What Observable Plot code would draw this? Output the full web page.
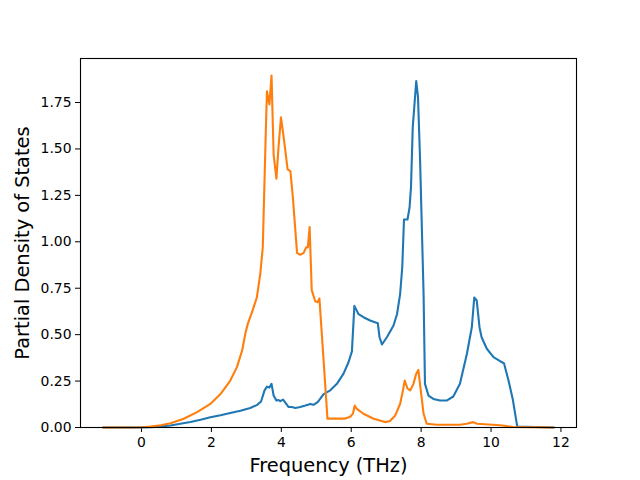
<!DOCTYPE html>
<html>
<head>
<meta charset="utf-8">
<script src="https://cdn.jsdelivr.net/npm/d3@7"></script>
<script src="https://cdn.jsdelivr.net/npm/@observablehq/plot@0.6"></script>
<style>
  html, body { margin: 0; padding: 0; background: #fff; }
  svg { display: block; }
</style>
</head>
<body>
<div id="chart"></div>
<script>
const freqBlue = [-1.1, 0, 0.3, 0.54, 0.83, 1.11, 1.4, 1.69, 1.97, 2.26, 2.54, 2.83, 3.11, 3.31, 3.42, 3.52, 3.59, 3.66, 3.72, 3.78, 3.86, 3.92, 3.97, 4.05, 4.11, 4.21, 4.3, 4.4, 4.54, 4.69, 4.83, 4.92, 5.04, 5.11, 5.21, 5.4, 5.59, 5.78, 5.92, 6.02, 6.09, 6.21, 6.35, 6.54, 6.76, 6.81, 6.88, 7.02, 7.21, 7.31, 7.4, 7.46, 7.51, 7.61, 7.67, 7.71, 7.76, 7.86, 7.91, 7.97, 8.07, 8.11, 8.21, 8.35, 8.54, 8.73, 8.92, 9.11, 9.31, 9.45, 9.52, 9.59, 9.67, 9.73, 9.88, 10.07, 10.26, 10.37, 10.5, 10.62, 10.75, 11.8];
const dosBlue = [0, 0, 0.002, 0.006, 0.011, 0.02, 0.03, 0.042, 0.055, 0.066, 0.078, 0.09, 0.105, 0.122, 0.14, 0.2, 0.22, 0.215, 0.235, 0.172, 0.145, 0.148, 0.142, 0.15, 0.135, 0.11, 0.11, 0.105, 0.11, 0.118, 0.127, 0.122, 0.137, 0.154, 0.18, 0.2, 0.235, 0.29, 0.35, 0.41, 0.655, 0.61, 0.594, 0.576, 0.562, 0.486, 0.447, 0.486, 0.549, 0.61, 0.72, 0.863, 1.12, 1.12, 1.186, 1.294, 1.617, 1.865, 1.78, 1.44, 0.72, 0.235, 0.172, 0.154, 0.145, 0.145, 0.167, 0.235, 0.397, 0.54, 0.70, 0.684, 0.54, 0.486, 0.424, 0.379, 0.357, 0.346, 0.253, 0.154, 0.005, 0];

const freqOrange = [-1.1, -0.3, 0, 0.26, 0.55, 0.83, 1.21, 1.59, 1.97, 2.26, 2.54, 2.73, 2.88, 2.97, 3.04, 3.16, 3.3, 3.40, 3.47, 3.51, 3.56, 3.59, 3.66, 3.72, 3.78, 3.86, 3.92, 3.99, 4.07, 4.18, 4.26, 4.33, 4.45, 4.54, 4.64, 4.71, 4.76, 4.81, 4.87, 4.97, 5.04, 5.09, 5.21, 5.32, 5.83, 5.97, 6.05, 6.1, 6.16, 6.35, 6.64, 6.97, 7.11, 7.26, 7.4, 7.48, 7.53, 7.61, 7.69, 7.78, 7.86, 7.92, 7.99, 8.07, 8.16, 8.45, 9.11, 9.3, 9.49, 9.6, 10.26, 10.63, 11.77];
const dosOrange = [0, 0, 0.001, 0.005, 0.012, 0.023, 0.047, 0.083, 0.127, 0.18, 0.253, 0.325, 0.415, 0.505, 0.558, 0.62, 0.7, 0.83, 0.97, 1.26, 1.62, 1.81, 1.74, 1.895, 1.47, 1.34, 1.51, 1.67, 1.56, 1.39, 1.38, 1.24, 0.94, 0.93, 0.94, 0.97, 0.97, 1.08, 0.74, 0.68, 0.675, 0.695, 0.36, 0.048, 0.048, 0.058, 0.075, 0.118, 0.10, 0.074, 0.047, 0.029, 0.035, 0.065, 0.128, 0.2, 0.253, 0.21, 0.2, 0.235, 0.29, 0.31, 0.2, 0.074, 0.02, 0.015, 0.015, 0.02, 0.029, 0.02, 0.012, 0.003, 0];

const xTicks = [0, 2, 4, 6, 8, 10, 12];
const yTicks = [0, 0.25, 0.5, 0.75, 1.0, 1.25, 1.5, 1.75];
const xLabel = "Frequency (THz)";
const yLabel = "Partial Density of States";

const blue = freqBlue.map((f, i) => ({f, d: dosBlue[i]}));
const orange = freqOrange.map((f, i) => ({f, d: dosOrange[i]}));

const chart = Plot.plot({
  width: 640,
  height: 480,
  marginLeft: 80,
  marginRight: 64,
  marginTop: 58,
  marginBottom: 53,
  style: {fontFamily: "DejaVu Sans", background: "#fff", color: "#000"},
  x: {domain: [-1.745, 12.445]},
  y: {domain: [0, 1.987]},
  marks: [
    Plot.axisX({ticks: xTicks, tickSize: 5, tickPadding: 5, fontSize: 13.9, label: null, tickFormat: d3.format("d")}),
    Plot.axisY({ticks: yTicks, tickSize: 5, tickPadding: 4, fontSize: 13.9, label: null, tickFormat: d3.format(".2f")}),
    Plot.line(blue, {x: "f", y: "d", stroke: "#1f77b4", strokeWidth: 2.1}),
    Plot.line(orange, {x: "f", y: "d", stroke: "#ff7f0e", strokeWidth: 2.1}),
    Plot.frame({stroke: "#000", strokeWidth: 1.1}),
    Plot.text([xLabel], {frameAnchor: "bottom", dy: 38, fontSize: 19.4, fill: "#000", textAnchor: "middle", lineAnchor: "middle"}),
    Plot.text([yLabel], {frameAnchor: "left", dx: -58, rotate: -90, fontSize: 19.4, fill: "#000", textAnchor: "middle", lineAnchor: "middle"})
  ]
});
document.getElementById("chart").appendChild(chart);
</script>
</body>
</html>
